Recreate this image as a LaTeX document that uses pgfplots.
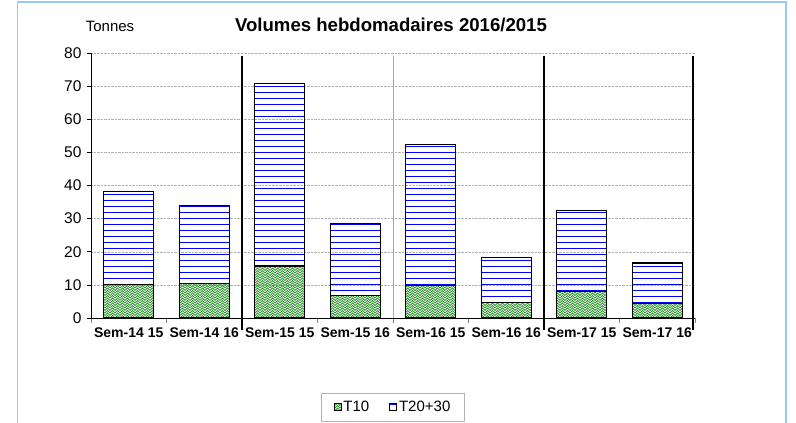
\documentclass[border=0pt]{standalone}
\usepackage{fontspec}
\setmainfont{Liberation Sans}
\usepackage{pgfplots}
\pgfplotsset{compat=1.18}
\usetikzlibrary{patterns.meta}
\definecolor{bordercol}{RGB}{150,205,235}
\definecolor{tgreen}{RGB}{50,150,50}

\tikzdeclarepattern{
  name=weave,
  type=uncolored,
  bottom left={(-0.5pt,-0.5pt)},
  top right={(5.5pt,5.5pt)},
  tile size={(5pt,5pt)},
  code={
    \draw[line width=0.8pt] (0pt,0pt) -- (2.5pt,2.5pt) -- (5pt,0pt);
    \draw[line width=0.8pt] (0pt,2.5pt) -- (2.5pt,5pt) -- (5pt,2.5pt);
  }
}

\begin{document}
\begin{tikzpicture}
\useasboundingbox (0,0) rectangle (796pt,423pt);
\draw[bordercol, line width=1.5pt] (17.5pt,-3pt) -- (17.5pt,421pt) -- (786pt,421pt) -- (786pt,-3pt);
\node[font=\bfseries\fontsize{18.6}{20}\selectfont] at (391pt,398pt) {Volumes hebdomadaires 2016/2015};
\node[font=\fontsize{15}{17}\selectfont] at (110pt,397pt) {Tonnes};
\begin{axis}[
  at={(91pt,105pt)}, anchor=south west,
  scale only axis, width=604pt, height=265pt,
  ybar stacked, bar width=50pt,
  xmin=-0.5, xmax=7.5, ymin=0, ymax=80,
  xtick={0,...,7},
  xticklabels={Sem-14 15, Sem-14 16, Sem-15 15, Sem-15 16, Sem-16 15, Sem-16 16, Sem-17 15, Sem-17 16},
  minor xtick={-0.5,0.5,...,7.5},
  ytick={0,10,...,80},
  axis x line*=bottom, axis y line*=left,
  axis line style={-, line width=0.9pt, black},
  tick align=outside,
  major tick length=4pt, minor tick length=5pt,
  major x tick style={draw=none},
  minor x tick style={gray, line width=0.6pt},
  y tick style={black, line width=0.6pt},
  ymajorgrids,
  grid style={gray!60, densely dotted, line width=0.4pt},
  xticklabel style={font=\bfseries\fontsize{14}{16}\selectfont, yshift=-2pt},
  yticklabel style={font=\fontsize{15.5}{17}\selectfont, xshift=-2pt},
  /pgf/number format/assume math mode=true,
  clip=false,
  legend columns=2,
  legend style={at={(0.5,-0.336)}, anchor=center, draw=gray!60,
    font=\fontsize{15}{17}\selectfont, inner xsep=12pt, inner ysep=6pt,
    /tikz/every even column/.append style={column sep=18pt}},
  legend image code/.code={\draw[#1, line width=0.8pt] (0pt,-3.5pt) rectangle (7pt,3.5pt);},
]
\addplot[draw=black, line width=1.1pt, pattern={weave}, pattern color=tgreen]
  coordinates {(0,10.1) (1,10.4) (2,15.7) (3,6.9) (4,9.7) (5,4.7) (6,7.9) (7,4.4)};
\addlegendentry{T10}
\addplot[draw=black, line width=1.1pt, pattern={Lines[angle=0,distance=6pt,line width=1pt]}, pattern color=blue]
  coordinates {(0,28.1) (1,23.6) (2,55.1) (3,21.6) (4,42.7) (5,13.5) (6,24.6) (7,12.2)};
\addlegendentry{T20+30}
\draw[gray!70, line width=0.6pt] (axis cs:3.5,79) -- (axis cs:3.5,0);
\draw[black, line width=1.6pt] (axis cs:1.5,79) -- (axis cs:1.5,-3.7);
\draw[black, line width=1.6pt] (axis cs:5.5,79) -- (axis cs:5.5,-3.7);
\draw[black, line width=1.6pt] (axis cs:7.47,79) -- (axis cs:7.47,-3.7);
\end{axis}
\end{tikzpicture}
\end{document}
